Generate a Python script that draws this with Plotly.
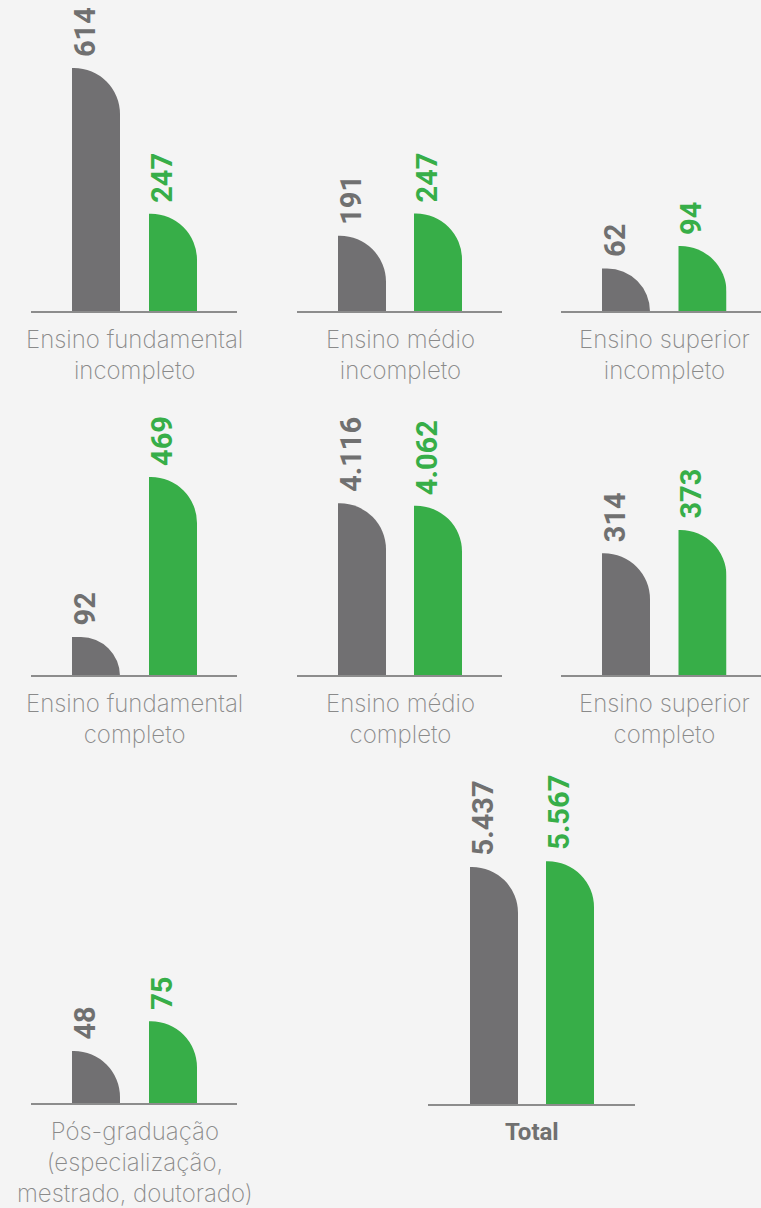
import plotly.graph_objects as go

# data: two series per education level (grey and green bars)
CATEGORIES = [
    "Ensino fundamental<br>incompleto",
    "Ensino médio<br>incompleto",
    "Ensino superior<br>incompleto",
    "Ensino fundamental<br>completo",
    "Ensino médio<br>completo",
    "Ensino superior<br>completo",
    "Pós-graduação<br>(especialização,<br>mestrado, doutorado)",
    "<b>Total</b>",
]
GREY_VALUES = [614, 191, 62, 92, 4116, 314, 48, 5437]
GREEN_VALUES = [247, 247, 94, 469, 4062, 373, 75, 5567]

# layout (pixels of the 761x1208 page)
W, H = 761, 1208
BAR_W = 48
PANEL_H = 300
BAR_LEFT = [(72, 149), (338, 414), (602, 678.5),
            (72, 149), (338, 414), (602, 678.5),
            (72, 149), (470, 546)]
BASELINE = [312, 312, 312, 676, 676, 676, 1104, 1105]
LINE_X = [(31, 237), (297, 502), (561, 761),
          (31, 237), (297, 502), (561, 761),
          (31, 237), (428, 635)]
# each panel has its own value scale (as in the original infographic)
PANEL_YMAX = [755, 752, 427, 707, 7153, 767, 272, 6850]

GREY = "#717072"
GREEN = "#37ae48"
BG = "#f4f4f4"
LABEL_GREY = "#8a8a8a"


def px_x(x):
    return x / W


def px_y(y):
    return 1 - y / H


def fmt(v):
    return f"{v:,}".replace(",", ".")


fig = go.Figure()
annotations = []
shapes = []
axes = {}

n = 0
for p, cat in enumerate(CATEGORIES):
    base = BASELINE[p]
    for s, (values, color) in enumerate([(GREY_VALUES, GREY), (GREEN_VALUES, GREEN)]):
        n += 1
        suffix = "" if n == 1 else str(n)
        left = BAR_LEFT[p][s]
        axes[f"xaxis{suffix}"] = dict(
            domain=[px_x(left), px_x(left + BAR_W)], range=[0, 1],
            type="linear", visible=False, fixedrange=True,
        )
        axes[f"yaxis{suffix}"] = dict(
            domain=[px_y(base), px_y(base - PANEL_H)], range=[0, PANEL_YMAX[p]],
            visible=False, fixedrange=True,
        )
        # double-width rounded bar, clipped to its right half -> quarter-round top
        fig.add_trace(go.Bar(
            x=[0], y=[values[p]], width=[2],
            marker=dict(color=color, cornerradius=46, line_width=0),
            xaxis=f"x{suffix}", yaxis=f"y{suffix}",
            name=cat.replace("<br>", " "), showlegend=False,
            hovertemplate=f"{fmt(values[p])}<extra></extra>",
        ))
        annotations.append(dict(
            x=0, y=values[p], xref=f"x{suffix}", yref=f"y{suffix}",
            text=fmt(values[p]), textangle=-90, showarrow=False,
            xanchor="left", yanchor="bottom", xshift=-6, yshift=9,
            font=dict(family="Roboto", size=29, weight="bold",
                      color="#707070" if s == 0 else GREEN),
        ))

    x0, x1 = LINE_X[p]
    shapes.append(dict(
        type="line", xref="paper", yref="paper", layer="above",
        x0=px_x(x0), x1=px_x(x1), y0=px_y(base), y1=px_y(base),
        line=dict(color="#8c8c8c", width=2),
    ))
    center = (BAR_LEFT[p][0] + BAR_LEFT[p][1] + BAR_W) / 2
    is_total = p == len(CATEGORIES) - 1
    annotations.append(dict(
        x=px_x(center), y=px_y(base + 11), xref="paper", yref="paper",
        text=cat, showarrow=False, xanchor="center", yanchor="top",
        align="center",
        font=dict(family="Roboto" if is_total else "Inter", size=24,
                  weight="bold" if is_total else 200,
                  color="#707070" if is_total else LABEL_GREY),
    ))

fig.update_layout(
    width=W, height=H,
    margin=dict(l=0, r=0, t=0, b=0),
    paper_bgcolor=BG, plot_bgcolor="rgba(0,0,0,0)",
    barmode="overlay",
    annotations=annotations,
    shapes=shapes,
    **axes,
)

fig.write_html("out.html", config={"displayModeBar": False},
               post_script="document.body.style.margin='0';")
